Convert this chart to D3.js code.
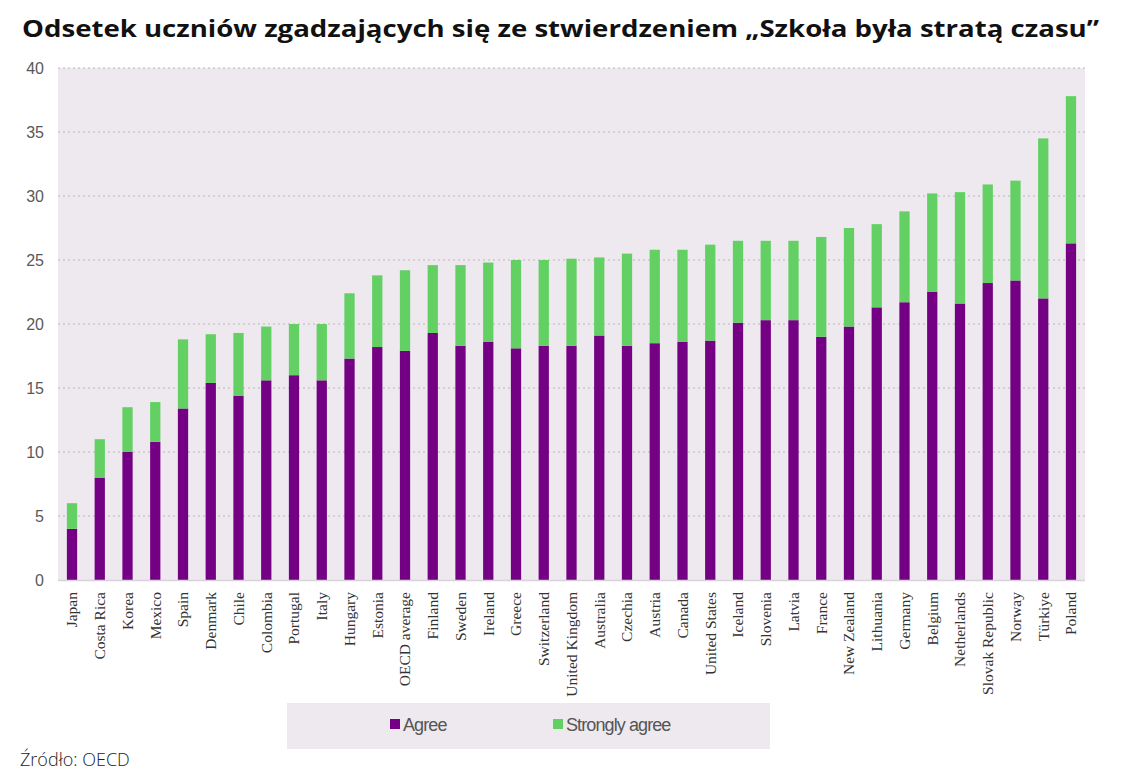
<!DOCTYPE html>
<html><head><meta charset="utf-8">
<script src="https://cdn.jsdelivr.net/npm/d3@7"></script>
<style>
body{margin:0;background:#fff;}
svg{display:block;}
</style></head>
<body>
<svg id="c" width="1122" height="774"></svg>
<script>
const categories = ["Japan","Costa Rica","Korea","Mexico","Spain","Denmark","Chile","Colombia","Portugal","Italy","Hungary","Estonia","OECD average","Finland","Sweden","Ireland","Greece","Switzerland","United Kingdom","Australia","Czechia","Austria","Canada","United States","Iceland","Slovenia","Latvia","France","New Zealand","Lithuania","Germany","Belgium","Netherlands","Slovak Republic","Norway","Türkiye","Poland"];
const agree = [4.0,8.0,10.0,10.8,13.4,15.4,14.4,15.6,16.0,15.6,17.3,18.2,17.9,19.3,18.3,18.6,18.1,18.3,18.3,19.1,18.3,18.5,18.6,18.7,20.1,20.3,20.3,19.0,19.8,21.3,21.7,22.5,21.6,23.2,23.4,22.0,26.3];
const total = [6.0,11.0,13.5,13.9,18.8,19.2,19.3,19.8,20.0,20.0,22.4,23.8,24.2,24.6,24.6,24.8,25.0,25.0,25.1,25.2,25.5,25.8,25.8,26.2,26.5,26.5,26.5,26.8,27.5,27.8,28.8,30.2,30.3,30.9,31.2,34.5,37.8];
const stronglyAgree = total.map((t,i)=>+(t-agree[i]).toFixed(1));
const yTicks = [0,5,10,15,20,25,30,35,40];
const seriesNames = ["Agree","Strongly agree"];
const colors = ["#740083","#62d062"];

const svg = d3.select("#c");
const m = {left:58, right:1085, top:68, bottom:580};

svg.append("text").attr("x",22).attr("y",37)
  .attr("font-family","'Open Sans', sans-serif").attr("font-weight",700)
  .attr("font-size",22.5).attr("fill","#111")
  .attr("textLength",1077).attr("lengthAdjust","spacingAndGlyphs")
  .text("Odsetek uczniów zgadzających się ze stwierdzeniem „Szkoła była stratą czasu”");

svg.append("rect").attr("x",m.left).attr("y",m.top).attr("width",m.right-m.left).attr("height",m.bottom-m.top).attr("fill","#ede9ef");

const x = d3.scaleBand().domain(categories).range([m.left,m.right]).paddingInner(0.63).paddingOuter(0.32);
const y = d3.scaleLinear().domain([0,40]).range([m.bottom,m.top]);

// grid
svg.append("g").selectAll("line").data(yTicks.filter(d=>d>0)).join("line")
  .attr("x1",m.left).attr("x2",m.right).attr("y1",d=>y(d)).attr("y2",d=>y(d))
  .attr("stroke","#b9b5bc").attr("stroke-width",1).attr("stroke-dasharray","2,3");

const yAxis = svg.append("g").attr("transform",`translate(${m.left},0)`)
  .call(d3.axisLeft(y).tickValues(yTicks).tickSize(0).tickPadding(14));
yAxis.select(".domain").remove();
yAxis.selectAll("text").attr("font-family","'Liberation Sans', Arial, sans-serif").attr("font-size",16).attr("fill","#595959");

const stack = d3.stack().keys([0,1]).value((d,k)=>d[k]);
const rows = categories.map((c,i)=>[agree[i],stronglyAgree[i]]);
const layers = stack(rows);
svg.append("g").selectAll("g").data(layers).join("g").attr("fill",(d,i)=>colors[i])
  .selectAll("rect").data(d=>d).join("rect")
  .attr("x",(d,i)=>x(categories[i])).attr("width",x.bandwidth())
  .attr("y",d=>y(d[1])).attr("height",d=>y(d[0])-y(d[1]));

// baseline
svg.append("line").attr("x1",m.left).attr("x2",m.right).attr("y1",m.bottom+0.5).attr("y2",m.bottom+0.5).attr("stroke","#d9d2dd").attr("stroke-width",1.5);

const xAxis = svg.append("g").attr("transform",`translate(0,${m.bottom})`)
  .call(d3.axisBottom(x).tickSize(0).tickPadding(0));
xAxis.select(".domain").remove();
xAxis.selectAll("text")
  .attr("font-family","'Liberation Serif', 'Times New Roman', serif").attr("font-size",15.5).attr("fill","#333")
  .attr("text-anchor","end").attr("dy","0.35em")
  .attr("transform","translate(0,12) rotate(-90)");

// legend
const lg = svg.append("g");
lg.append("rect").attr("x",287).attr("y",703).attr("width",483).attr("height",46).attr("fill","#ede9ef");
const lx = [390,553];
seriesNames.forEach((n,i)=>{
  lg.append("rect").attr("x",lx[i]).attr("y",719).attr("width",10).attr("height",10).attr("fill",colors[i]);
  lg.append("text").attr("x",lx[i]+13).attr("y",731).attr("font-family","'Liberation Sans', Arial, sans-serif")
    .attr("font-size",18).attr("letter-spacing","-0.9").attr("fill","#555").text(n);
});

svg.append("text").attr("x",20).attr("y",766).attr("font-family","'Open Sans', sans-serif").attr("font-weight",300)
  .attr("font-size",18).attr("fill","#222").text("Źródło: OECD");
</script>
</body></html>
